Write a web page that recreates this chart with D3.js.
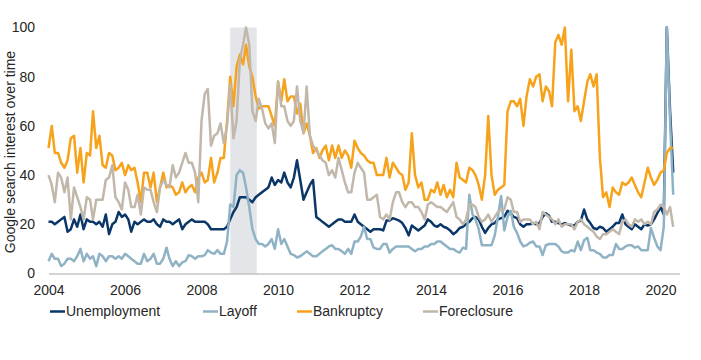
<!DOCTYPE html>
<html>
<head>
<meta charset="utf-8">
<script src="https://cdn.jsdelivr.net/npm/d3@7"></script>
<style>
  body { margin: 0; background: #fff; }
  svg text { font-family: "Liberation Sans", Arial, sans-serif; fill: #262626; }
</style>
</head>
<body>
<svg id="chart" width="701" height="360"></svg>
<script>
// monthly Google Trends index, Jan 2004 .. May 2020
const startMonth = new Date(2004, 0, 1)
const unemployment = [
  21, 21, 20, 21, 22, 23, 17, 18, 22, 19, 24, 18,
  22, 21, 21, 20, 21, 19, 24, 16, 20, 21, 25, 23,
  24, 22, 17, 21, 20, 21, 22, 21, 21, 22, 20, 19,
  22, 21, 21, 20, 21, 22, 18, 20, 21, 22, 21, 21,
  21, 21, 20, 18, 18, 18, 18, 18, 19, 22, 25, 27,
  31, 31, 31, 30, 29, 31, 32, 33, 34, 35, 39, 36,
  38, 37, 41, 37, 35, 39, 46, 38, 30, 33, 36, 38,
  23, 22, 21, 20, 19, 20, 21, 22, 22, 21, 21, 21,
  24, 21, 20, 19, 18, 17, 18, 18, 18, 17.5, 21.5, 21.5,
  22.5, 22, 21.5, 20.5, 18.5, 15.5, 19.5, 18.5, 17.5, 18.5, 19.5, 22,
  21, 19.5, 19, 20, 19, 18.5, 17.5, 16, 17, 18.5, 19, 20,
  21, 22.5, 23, 22, 19, 16.5, 18.5, 20, 20.5, 22, 22.5, 23,
  25.5, 24.5, 23, 22.5, 20, 19, 20, 20, 20.5, 20, 20.5, 23,
  24.5, 23.5, 21, 21, 20.5, 20, 20.5, 20, 19.5, 19.5, 21, 21.5,
  26, 22, 20.5, 18.5, 18, 19, 18.5, 17, 18, 19, 20.5, 20.5,
  24, 20, 19, 18, 20, 19, 18, 20, 19.5, 20, 22, 24.5,
  27, 24, 100, 66, 41
]
const layoff = [
  5, 8, 6, 6, 3, 4, 6, 6, 5, 7, 10, 5,
  8, 6, 7, 3, 8, 7, 5, 7, 7, 6, 7, 6,
  8, 7, 6, 5, 4, 4, 8, 5, 6, 8, 4, 4,
  6, 10.5, 6, 3, 5, 3, 4.5, 5, 7.5, 7, 6, 7,
  7, 7.5, 9.5, 8.5, 8, 9.5, 8, 8, 13, 28, 27, 40,
  42, 41, 35, 27, 18, 14, 12, 12, 11, 12, 14, 10,
  18, 12, 14, 11, 8, 7.5, 6.5, 7, 8, 9, 8, 7,
  7, 8, 9, 10, 11, 11.5, 10, 10, 9, 8, 10, 8,
  13, 13, 15, 19, 14, 14, 10.5, 10, 10, 12, 12, 8.5,
  10, 11, 11, 11, 11, 11, 10, 9, 10, 10, 11, 11,
  12, 12, 13, 13, 12, 11, 10, 10, 9, 8.5, 10.5, 10,
  32, 24, 22, 18, 11.5, 11.5, 11.5, 11.5, 15.5, 23, 31.5, 17.5,
  23, 25.5, 19, 16.5, 13, 11, 11.5, 12.5, 13, 11, 11, 7.5,
  11.5, 12, 12, 12, 11, 9, 8.5, 8.5, 9.5, 9, 13, 9.5,
  13.5, 14.5, 9.5, 9.5, 8.5, 8, 6.5, 6.5, 7.5, 7.5, 12, 10,
  10, 11, 11.5, 11.5, 10.5, 11, 9.5, 9.5, 9.5, 18.5, 14.5, 11,
  9.5, 19, 100, 62, 32
]
const bankruptcy = [
  51, 60, 49, 49, 45, 43, 46, 55, 56, 41, 51, 37,
  49, 48, 66, 51, 56, 44, 43, 49, 48, 42, 43, 45,
  40, 44, 42, 43, 37, 29, 41, 41, 35, 41, 29, 35,
  41, 35, 36, 35, 32, 33, 37, 33, 35, 36, 33, 39,
  41, 37, 38, 47, 37, 41, 47, 47, 62, 80, 68, 84,
  89, 85, 93, 84, 80, 72, 67, 68, 68, 68, 64, 60,
  78, 70, 79, 70, 72, 72, 65, 69, 57, 61, 56, 49,
  51, 47, 50, 52, 46, 52, 47, 52, 47, 50, 48, 43,
  54, 51, 49, 48, 46, 45, 45, 40, 40, 40, 47, 39,
  45, 43, 41, 40, 34, 37, 57, 40, 35, 37, 30, 30,
  34, 33, 37, 32, 36, 31, 34, 31, 45, 39, 38, 37,
  43, 42, 40, 36, 30, 40, 64, 40, 32, 34, 35, 36,
  66, 70, 70, 68, 71, 60, 72, 79, 76, 80, 81, 70,
  76, 74, 68, 94, 97, 93, 100, 70, 91, 66, 68, 62,
  70, 78, 81, 76, 81, 47, 31, 33, 27, 35, 33, 32,
  37, 36, 37, 39, 36, 33, 31, 37, 43, 39, 36, 38,
  41, 42, 49, 51, 51
]
const foreclosure = [
  40, 36, 29, 41, 39, 33, 39, 22, 35, 31, 27, 22,
  31, 30, 22, 30, 30, 30, 38, 39, 44, 31, 29, 26,
  37, 34, 27, 27, 32, 24, 35, 34, 34, 29, 25, 35,
  38, 36, 35, 44, 39, 41, 45, 49, 45, 45, 41, 29,
  62, 73, 75, 52, 56, 57, 61, 53, 60, 77, 55, 62,
  87, 93, 100, 93, 66, 62, 71, 67, 61, 59, 61, 53,
  78, 68, 68, 62, 60, 62, 76, 62, 57, 76, 56, 52,
  50, 48, 46, 45, 40, 42, 39, 47, 42, 37, 33, 33,
  41, 45, 43, 41, 30, 30, 31, 32, 23, 22, 24, 22,
  29, 33, 33, 29, 27, 29, 29, 27, 27, 25, 22, 28,
  29, 28, 27, 27, 26, 25, 27, 29, 23, 22, 20, 22,
  28, 28, 27, 23, 21, 22, 24, 21, 23, 25, 26, 26,
  31, 30, 25, 25, 21, 22, 22, 22, 20, 21, 18, 25,
  24, 23, 22, 20, 22, 19, 20, 20, 20, 18, 21, 22,
  20, 19, 18, 17, 15, 14, 16, 16, 17, 18, 17, 16,
  21, 22, 20, 19, 22, 21, 22, 20, 21, 20, 25, 26,
  28, 27, 24, 27, 19
]
const seriesNames = ["Unemployment", "Layoff", "Bankruptcy", "Foreclosure"]
const seriesColors = ["#0b3768", "#8fb2c5", "#f7a21b", "#c1b7aa"]
const yearTicks = [2004, 2006, 2008, 2010, 2012, 2014, 2016, 2018, 2020]
const yTicks = [0, 20, 40, 60, 80, 100]
const recession = [new Date(2008, 9, 1), new Date(2009, 5, 12)]

const svg = d3.select("#chart")

const x = d3.scaleTime()
  .domain([new Date(2004, 0, 1), new Date(2020, 6, 1)])
  .range([48.5, 679.6])
const y = d3.scaleLinear().domain([0, 100]).range([273.5, 27.5])

// recession shading
svg.append("rect")
  .attr("x", x(recession[0]))
  .attr("y", y(100))
  .attr("width", x(recession[1]) - x(recession[0]))
  .attr("height", y(0) - y(100))
  .attr("fill", "#e3e5e8")

const dates = unemployment.map((d, i) => d3.timeMonth.offset(startMonth, i))
const allSeries = [unemployment, layoff, bankruptcy, foreclosure]

const line = d3.line()
  .x((d, i) => x(dates[i]))
  .y(d => y(d))

allSeries.forEach((s, k) => {
  svg.append("path")
    .datum(s)
    .attr("d", line)
    .attr("fill", "none")
    .attr("stroke", seriesColors[k])
    .attr("stroke-width", 2.5)
    .attr("stroke-linejoin", "round")
})

// x axis
const xAxis = svg.append("g")
  .attr("transform", "translate(0," + y(0) + ")")
  .call(d3.axisBottom(x)
    .tickValues(yearTicks.map(yr => new Date(yr, 0, 1)))
    .tickFormat(d3.timeFormat("%Y"))
    .tickSize(0)
    .tickPadding(12))
xAxis.select(".domain").attr("stroke", "#a6a6a6").attr("stroke-width", 1)
xAxis.selectAll("text").attr("font-size", 14).style("font-family", null)

// y axis (labels only)
const yAxis = svg.append("g")
  .attr("transform", "translate(38,0)")
  .call(d3.axisLeft(y).tickValues(yTicks).tickSize(0).tickPadding(3))
yAxis.select(".domain").remove()
yAxis.selectAll("text").attr("font-size", 14).style("font-family", null)

svg.append("text")
  .attr("transform", "translate(15,152) rotate(-90)")
  .attr("text-anchor", "middle")
  .attr("font-size", 14)
  .text("Google search interest over time")

// legend
const legendX = [50, 203, 297, 423]
seriesNames.forEach((name, k) => {
  const g = svg.append("g").attr("transform", "translate(" + legendX[k] + ",311.5)")
  g.append("line")
    .attr("x1", 0).attr("x2", 15)
    .attr("stroke", seriesColors[k])
    .attr("stroke-width", 2.5)
  g.append("text")
    .attr("x", 16)
    .attr("dy", "0.35em")
    .attr("font-size", 14)
    .text(name)
})
</script>
</body>
</html>
